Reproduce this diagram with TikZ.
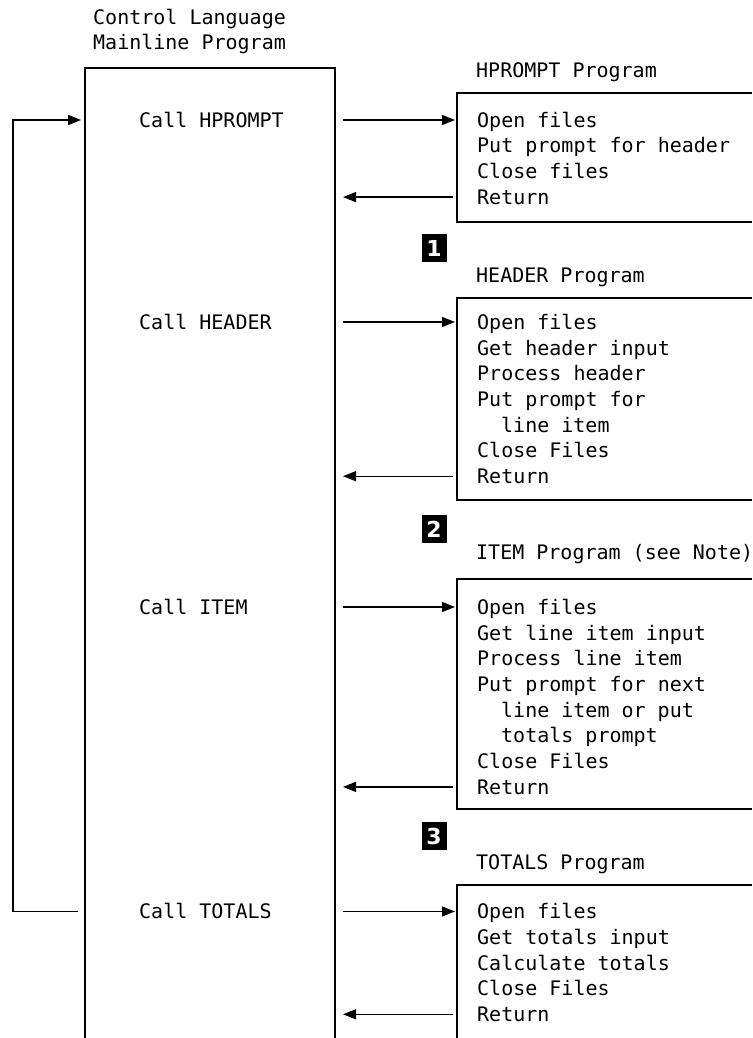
\documentclass[tikz,border=0pt]{standalone}
\usepackage{fontspec}
\newfontfamily\monof{DejaVu Sans Mono}
\newfontfamily\markf{DejaVu Sans}
\usetikzlibrary{arrows.meta}
\newcommand\boxlines[4]{%
  \foreach \t [count=\i] in {#4} \node[txt] (#1\i) at (#2,{#3+25.7*(\i-1)}) {\t};}
\begin{document}
\begin{tikzpicture}[x=1pt,y=-1pt,
  txt/.style={anchor=base west, inner sep=0pt, font=\monof\fontsize{20}{24}\selectfont},
  ln/.style={line width=1.3pt},
  arr/.style={ln,-{Triangle[length=13pt,width=10pt]}},
  markbox/.style={fill=black, text=white, inner sep=0pt, minimum width=25pt, minimum height=28pt, font=\markf\bfseries\fontsize{22}{24}\selectfont}]
\useasboundingbox (0,0) rectangle (752,1038);
% title
\node[txt] (t1) at (93,25) {Control Language};
\node[txt] (t2) at (93,50) {Mainline Program};
% main rectangle (open at bottom)
\coordinate (mBL) at (85,1038);
\coordinate (mTL) at (85,68);
\coordinate (mTR) at (335,68);
\coordinate (mBR) at (335,1038);
\draw[ln] (mBL) -- (mTL) -- (mTR) -- (mBR);
% calls
\node[txt] (cHP) at (139,127.3) {Call HPROMPT};
\node[txt] (cHD) at (139,329.3) {Call HEADER};
\node[txt] (cIT) at (139,614.3) {Call ITEM};
\node[txt] (cTO) at (139,918.8) {Call TOTALS};
% program labels
\node[txt] (lHP) at (476,77.3) {HPROMPT Program};
\node[txt] (lHD) at (476,282.3) {HEADER Program};
\node[txt] (lIT) at (476,559.3) {ITEM Program (see Note)};
\node[txt] (lTO) at (476,869.3) {TOTALS Program};
% boxes (right side runs off the page)
\coordinate (hpTR) at (752,93);  \coordinate (hpBL) at (457,222); \coordinate (hpBR) at (752,222);
\coordinate (hdTR) at (752,298); \coordinate (hdBL) at (457,500); \coordinate (hdBR) at (752,500);
\coordinate (itTR) at (752,579); \coordinate (itBL) at (457,809); \coordinate (itBR) at (752,809);
\coordinate (toTR) at (752,885); \coordinate (toBL) at (457,1038);
\draw[ln] (hpTR) -| (hpBL) -- (hpBR);
\draw[ln] (hdTR) -| (hdBL) -- (hdBR);
\draw[ln] (itTR) -| (itBL) -- (itBR);
\draw[ln] (toTR) -| (toBL);
% box contents
\boxlines{hp}{477}{127.3}{Open files, Put prompt for header, Close files, Return}
\boxlines{hd}{477}{329.3}{Open files, Get header input, Process header, Put prompt for, {\hspace*{24pt}line item}, Close Files, Return}
\boxlines{it}{477}{614.3}{Open files, Get line item input, Process line item, Put prompt for next, {\hspace*{24pt}line item or put}, {\hspace*{24pt}totals prompt}, Close Files, Return}
\boxlines{to}{477}{918.8}{Open files, Get totals input, Calculate totals, Close Files, Return}
% call / return arrows
\coordinate (hpO) at (343,120);  \coordinate (hpI) at (455,120);
\coordinate (hpRo) at (453,197.1); \coordinate (hpRi) at (343,197.1);
\coordinate (hdO) at (343,322);  \coordinate (hdI) at (455,322);
\coordinate (hdRo) at (453,476.2); \coordinate (hdRi) at (343,476.2);
\coordinate (itO) at (343,607);  \coordinate (itI) at (455,607);
\coordinate (itRo) at (453,786.9); \coordinate (itRi) at (343,786.9);
\coordinate (toO) at (343,911.5);  \coordinate (toI) at (455,911.5);
\coordinate (toRo) at (453,1014.3); \coordinate (toRi) at (343,1014.3);
\draw[arr] (hpO) -- (hpI);
\draw[arr] (hpRo) -- (hpRi);
\draw[arr] (hdO) -- (hdI);
\draw[arr] (hdRo) -- (hdRi);
\draw[arr] (itO) -- (itI);
\draw[arr] (itRo) -- (itRi);
\draw[arr] (toO) -- (toI);
\draw[arr] (toRo) -- (toRi);
% loop back
\coordinate (loopS) at (78,911.5);
\coordinate (loopC) at (13,911.5);
\coordinate (loopE) at (81,120);
\draw[arr] (loopS) -- (loopC) |- (loopE);
% markers
\node[markbox] (n1) at (434,248) {1};
\node[markbox] (n2) at (434,529) {2};
\node[markbox] (n3) at (434,836) {3};
\end{tikzpicture}
\end{document}
